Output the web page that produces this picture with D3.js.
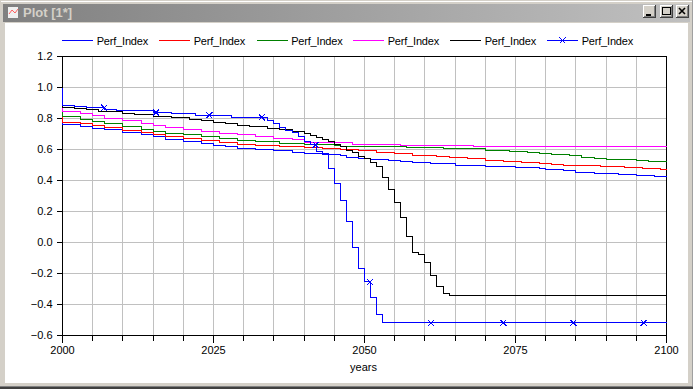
<!DOCTYPE html>
<html><head><meta charset="utf-8">
<script src="https://cdn.jsdelivr.net/npm/d3@7/dist/d3.min.js"></script>
<style>html,body{margin:0;padding:0;background:#d4d0c8}svg{display:block}text{font-family:"Liberation Sans",Arial,sans-serif}</style>
</head><body><svg id="c" width="693" height="389"></svg>
<script>
// Change points: years since 2000 and the index value from that year on
const seriesName = "Perf_Index";
const xTicks = d3.range(2000, 2101, 5);
const xLabels = [2000, 2025, 2050, 2075, 2100];
const yTicks = [-0.6, -0.4, -0.2, 0, 0.2, 0.4, 0.6, 0.8, 1.0, 1.2];
const colors = ["#0000ff", "#ff0000", "#008000", "#ff00ff", "#000000", "#0000ff"];

const blueYears = [0,3,5,7,10,13,15,17,20,23,25,27,29,32,35,38,40,43,46,47,49,51,52,54,56,58,61,65,70,75,79,80,83,85,88,90,92,95,98];
const blueVals = [.759,.748,.737,.727,.710,.695,.681,.665,.652,.639,.629,.619,.608,.603,.594,.581,.574,.568,.561,.550,.544,.537,.533,.527,.520,.514,.507,.497,.490,.484,.477,.469,.463,.454,.447,.443,.436,.430,.423];

const redYears = [0,3,5,7,10,13,15,17,20,23,26,29,32,36,40,43,46,49,52,55,58,62,64,67,70,73,76,79,81,83,89,93,96,99];
const redVals = [.776,.766,.755,.740,.723,.708,.697,.686,.674,.658,.645,.634,.626,.619,.613,.606,.598,.591,.583,.572,.563,.555,.546,.539,.529,.520,.514,.507,.501,.495,.488,.482,.475,.469];

const greenYears = [0,3,5,7,10,13,15,17,20,23,26,29,32,36,40,45,46,57,63,70,74,77,79,81,84,86,88,90,92,95,97];
const greenVals = [.813,.792,.779,.766,.748,.729,.717,.705,.694,.681,.669,.658,.650,.639,.634,.624,.621,.611,.604,.594,.587,.581,.572,.566,.559,.548,.544,.537,.533,.527,.520];

const magentaYears = [0,3,5,7,10,13,15,17,20,23,26,29,32,35,38,40,43,48,56,68];
const magentaVals = [.847,.830,.819,.802,.784,.766,.755,.739,.729,.716,.706,.695,.685,.672,.662,.647,.643,.632,.624,.617];

const blackYears = [0,2,4,6,8,10,12,15,18,21,23,25,27,29,31,34,36,38,40,41,42,43,44,45,46,47,48,49,50,51,52,53,54,55,56,57,58,59,60,61,62,63,64];
const blackVals = [.873,.865,.858,.848,.842,.834,.826,.815,.805,.796,.784,.776,.768,.755,.746,.734,.727,.718,.701,.690,.679,.663,.650,.632,.619,.596,.579,.557,.542,.514,.488,.417,.340,.256,.159,.037,-.065,-.079,-.131,-.215,-.286,-.331,-.344];

const crossYears = [0,2,4,7,9,15,18,22,28,34,35,36,37,38,39,40,41,42,43,44,45,46,47,48,49,50,51,52,53];
const crossVals = [.884,.877,.869,.860,.852,.839,.830,.821,.808,.787,.766,.744,.723,.712,.684,.654,.630,.585,.572,.475,.379,.269,.134,-.034,-.170,-.254,-.357,-.466,-.518];
const markerYears = [6.9,15.5,24.3,33,41.9,50.9,61,73,84.6,96.2];

const startValue = 1.0;
const allYears = [blueYears, redYears, greenYears, magentaYears, blackYears, crossYears];
const allVals = [blueVals, redVals, greenVals, magentaVals, blackVals, crossVals];

const svg = d3.select("#c");
const W = 693, H = 389;

// ---- window frame
const defs = svg.append("defs");
const g = defs.append("linearGradient").attr("id","tb");
g.append("stop").attr("offset",0).attr("stop-color","#808080");
g.append("stop").attr("offset",1).attr("stop-color","#c0c0c0");
const rect = (x,y,w,h,f)=>svg.append("rect").attr("x",x).attr("y",y).attr("width",w).attr("height",h).attr("fill",f).attr("shape-rendering","crispEdges");
rect(0,0,W,H,"#d4d0c8");
rect(1,1,W-2,1,"#ffffff");
rect(W-1,0,1,H,"#a0a0a0");
rect(0,386,W,1,"#808080");
rect(0,387,W,2,"#404040");
rect(3,4,W-6,18,"url(#tb)");
rect(5,23,683,360,"#ffffff");
svg.append("text").attr("x",23).attr("y",17).attr("fill","#d4d0c8").attr("font-size",13).attr("font-weight","bold").text("Plot [1*]");
// title icon
rect(8,7,10,11,"#f0f0f0");
svg.append("path").attr("d","M9 14 L12 10 L15 13 L18 9").attr("fill","none").attr("stroke","#ff6060");
// window buttons
[[643,"min"],[659.5,"max"],[676,"close"]].forEach(([bx,k])=>{
  rect(bx,5,13,13,"#404040");
  rect(bx,5,12,12,"#ffffff");
  rect(bx+1,6,11,11,"#808080");
  rect(bx+1,6,10,10,"#d4d0c8");
  const s = svg.append("g").attr("stroke","#000").attr("fill","none").attr("shape-rendering","crispEdges");
  if(k==="min") s.append("path").attr("d",`M${bx+3} 14.5H${bx+8}`).attr("stroke-width",2);
  if(k==="max") s.append("rect").attr("x",bx+2.5).attr("y",7.5).attr("width",8).attr("height",7);
  if(k==="close") s.append("path").attr("d",`M${bx+3} 8L${bx+9} 14M${bx+9} 8L${bx+3} 14`).attr("stroke-width",1.6).attr("shape-rendering","auto");
});

// ---- plot
const x = d3.scaleLinear().domain([2000,2100]).range([62.5,666.5]);
const y = d3.scaleLinear().domain([-0.6,1.2]).range([335.5,56.5]);
const plot = svg.append("g").attr("shape-rendering","crispEdges");

plot.append("g").selectAll("line").data(xTicks.slice(1,-1)).join("line")
  .attr("x1",d=>x(d)).attr("x2",d=>x(d)).attr("y1",y(1.2)).attr("y2",y(-0.6)).attr("stroke","#c0c0c0");
plot.append("g").selectAll("line").data(yTicks.slice(1,-1)).join("line")
  .attr("x1",x(2000)).attr("x2",x(2100)).attr("y1",d=>y(d)).attr("y2",d=>y(d)).attr("stroke","#c0c0c0");

const fnt = 11;
const xAxis = d3.axisBottom(x).offset(0).tickValues(xTicks).tickSize(5).tickSizeOuter(0).tickFormat(d=>xLabels.includes(d)?String(d):"");
const xg = svg.append("g").attr("transform","translate(0,335.5)").attr("shape-rendering","crispEdges").call(xAxis);
xg.selectAll(".tick").filter(d=>xLabels.includes(d)).select("line").attr("y2",7);
xg.selectAll("text").attr("y",10.5).attr("font-size",fnt).attr("font-family",null).attr("fill","#000");
const yAxis = d3.axisLeft(y).offset(0).tickValues(yTicks).tickSize(6).tickSizeOuter(0).tickFormat(d3.format(".1f"));
const yg = svg.append("g").attr("transform","translate(62.5,0)").attr("shape-rendering","crispEdges").call(yAxis);
yg.selectAll("text").attr("x",-10).attr("font-size",fnt).attr("font-family",null).attr("fill","#000");
[xg,yg].forEach(a=>a.select(".domain").attr("stroke","#000"));
plot.append("path").attr("d",`M${x(2000)} ${y(1.2)}H${x(2100)}V${y(-0.6)}`).attr("fill","none").attr("stroke","#000");

svg.append("text").attr("x",363.5).attr("y",371).attr("text-anchor","middle").attr("font-size",fnt).text("years");

const line = d3.line().x(d=>x(d[0])).y(d=>y(d[1])).curve(d3.curveStepAfter);
const pts = allYears.map((ys,i)=>{
  const p = [[2000,startValue]];
  ys.forEach((yr,j)=>p.push([2000+yr,allVals[i][j]]));
  p.push([2100,allVals[i][allVals[i].length-1]]);
  return p;
});
svg.append("g").attr("fill","none").attr("shape-rendering","crispEdges").selectAll("path").data(pts).join("path")
  .attr("d",line).attr("stroke",(d,i)=>colors[i]).attr("stroke-width",1);

const crossAt = yr => crossVals[Math.max(0,d3.bisectRight(crossYears,yr)-1)];
const cross = (px,py,r)=>`M${px-r} ${py-r}L${px+r} ${py+r}M${px+r} ${py-r}L${px-r} ${py+r}`;
svg.append("g").attr("fill","none").attr("stroke",colors[5]).attr("shape-rendering","crispEdges").selectAll("path").data(markerYears).join("path")
  .attr("d",d=>cross(x(2000+d),y(crossAt(d)),3));

// ---- legend
const legendX = [62,159,256.5,353,450,547];
const lg = svg.append("g").selectAll("g").data(legendX).join("g").attr("transform",d=>`translate(${d},40.5)`);
lg.append("line").attr("x1",0).attr("x2",31).attr("stroke",(d,i)=>colors[i]).attr("shape-rendering","crispEdges");
lg.filter((d,i)=>i===5).append("path").attr("d",cross(15.5,0,3)).attr("fill","none").attr("stroke",colors[5]).attr("shape-rendering","crispEdges");
lg.append("text").attr("x",34.7).attr("y",4).attr("font-size",fnt).attr("textLength",51.5).attr("fill","#000").text(seriesName);
</script></body></html>
